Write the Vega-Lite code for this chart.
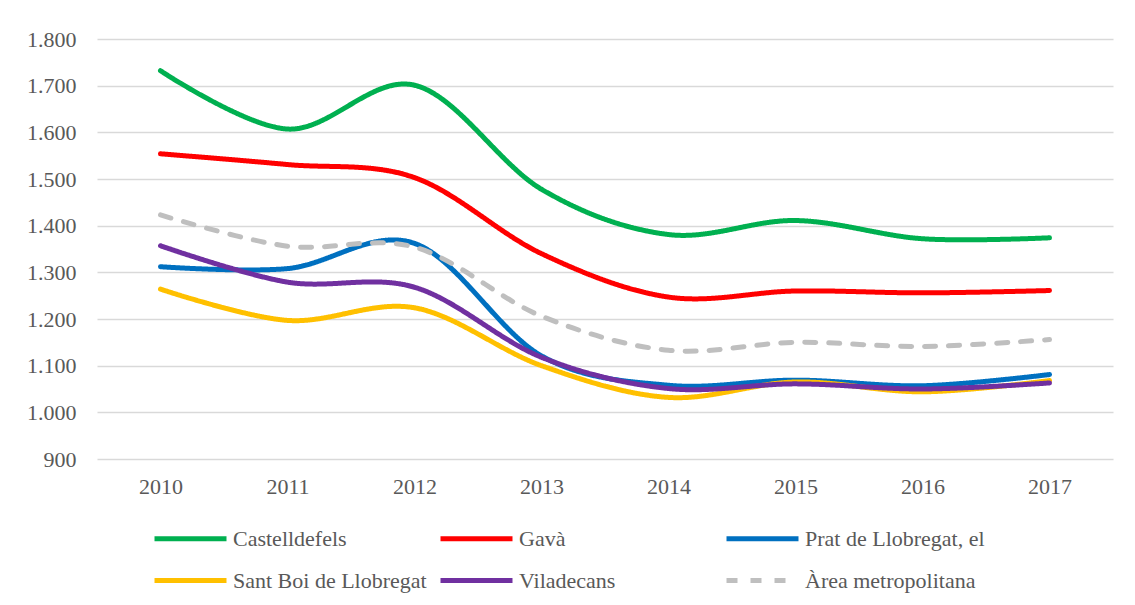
{
  "$schema": "https://vega.github.io/schema/vega-lite/v6.json",
  "width": 1016,
  "height": 420,
  "autosize": {"type": "none"},
  "padding": {"left": 97, "top": 39, "right": 22, "bottom": 146},
  "background": "white",
  "config": {
    "view": {"stroke": null},
    "font": "Liberation Serif",
    "axis": {"labelFont": "Liberation Serif", "labelColor": "#595959", "labelFontSize": 22, "title": null, "domain": false, "ticks": false},
    "legend": {"labelFont": "Liberation Serif", "labelColor": "#595959", "labelFontSize": 22}
  },
  "data": {
    "values": [
      {"year": "2010", "serie": "Castelldefels", "value": 1732},
      {"year": "2011", "serie": "Castelldefels", "value": 1607},
      {"year": "2012", "serie": "Castelldefels", "value": 1701},
      {"year": "2013", "serie": "Castelldefels", "value": 1478},
      {"year": "2014", "serie": "Castelldefels", "value": 1381},
      {"year": "2015", "serie": "Castelldefels", "value": 1411},
      {"year": "2016", "serie": "Castelldefels", "value": 1372},
      {"year": "2017", "serie": "Castelldefels", "value": 1374},
      {"year": "2010", "serie": "Gavà", "value": 1554},
      {"year": "2011", "serie": "Gavà", "value": 1531},
      {"year": "2012", "serie": "Gavà", "value": 1503},
      {"year": "2013", "serie": "Gavà", "value": 1340},
      {"year": "2014", "serie": "Gavà", "value": 1247},
      {"year": "2015", "serie": "Gavà", "value": 1260},
      {"year": "2016", "serie": "Gavà", "value": 1256},
      {"year": "2017", "serie": "Gavà", "value": 1261},
      {"year": "2010", "serie": "Prat de Llobregat, el", "value": 1312},
      {"year": "2011", "serie": "Prat de Llobregat, el", "value": 1308},
      {"year": "2012", "serie": "Prat de Llobregat, el", "value": 1362},
      {"year": "2013", "serie": "Prat de Llobregat, el", "value": 1121},
      {"year": "2014", "serie": "Prat de Llobregat, el", "value": 1058},
      {"year": "2015", "serie": "Prat de Llobregat, el", "value": 1069},
      {"year": "2016", "serie": "Prat de Llobregat, el", "value": 1057},
      {"year": "2017", "serie": "Prat de Llobregat, el", "value": 1081},
      {"year": "2010", "serie": "Sant Boi de Llobregat", "value": 1264},
      {"year": "2011", "serie": "Sant Boi de Llobregat", "value": 1197},
      {"year": "2012", "serie": "Sant Boi de Llobregat", "value": 1224},
      {"year": "2013", "serie": "Sant Boi de Llobregat", "value": 1100},
      {"year": "2014", "serie": "Sant Boi de Llobregat", "value": 1032},
      {"year": "2015", "serie": "Sant Boi de Llobregat", "value": 1065},
      {"year": "2016", "serie": "Sant Boi de Llobregat", "value": 1044},
      {"year": "2017", "serie": "Sant Boi de Llobregat", "value": 1068},
      {"year": "2010", "serie": "Viladecans", "value": 1357},
      {"year": "2011", "serie": "Viladecans", "value": 1279},
      {"year": "2012", "serie": "Viladecans", "value": 1268},
      {"year": "2013", "serie": "Viladecans", "value": 1118},
      {"year": "2014", "serie": "Viladecans", "value": 1051},
      {"year": "2015", "serie": "Viladecans", "value": 1061},
      {"year": "2016", "serie": "Viladecans", "value": 1050},
      {"year": "2017", "serie": "Viladecans", "value": 1063},
      {"year": "2010", "serie": "Àrea metropolitana", "value": 1423},
      {"year": "2011", "serie": "Àrea metropolitana", "value": 1356},
      {"year": "2012", "serie": "Àrea metropolitana", "value": 1354},
      {"year": "2013", "serie": "Àrea metropolitana", "value": 1206},
      {"year": "2014", "serie": "Àrea metropolitana", "value": 1133},
      {"year": "2015", "serie": "Àrea metropolitana", "value": 1150},
      {"year": "2016", "serie": "Àrea metropolitana", "value": 1141},
      {"year": "2017", "serie": "Àrea metropolitana", "value": 1156}
    ]
  },
  "mark": {"type": "line", "interpolate": "cardinal", "strokeWidth": 5, "strokeCap": "round", "strokeJoin": "round"},
  "encoding": {
    "x": {
      "field": "year", "type": "ordinal",
      "scale": {"type": "point", "padding": 0.5},
      "axis": {"labelAngle": 0, "labelPadding": 17, "grid": false}
    },
    "y": {
      "field": "value", "type": "quantitative",
      "scale": {"domain": [900, 1800], "nice": false, "zero": false},
      "axis": {
        "values": [900, 1000, 1100, 1200, 1300, 1400, 1500, 1600, 1700, 1800],
        "labelExpr": "replace(format(datum.value, ','), ',', '.')",
        "labelPadding": 21,
        "grid": true, "gridColor": "#d9d9d9", "gridWidth": 1.5
      }
    },
    "color": {
      "field": "serie", "type": "nominal",
      "scale": {
        "domain": ["Castelldefels", "Gavà", "Prat de Llobregat, el", "Sant Boi de Llobregat", "Viladecans", "Àrea metropolitana"],
        "range": ["#00B050", "#FF0000", "#0070C0", "#FFC000", "#7030A0", "#BFBFBF"]
      },
      "legend": {
        "title": null,
        "orient": "none",
        "legendX": 55,
        "legendY": 485,
        "direction": "horizontal",
        "columns": 3,
        "gridAlign": "all",
        "symbolType": "M-3,0H3",
        "symbolSize": 576,
        "symbolStrokeWidth": 5,
        "symbolOffset": 24,
        "labelOffset": 28,
        "labelLimit": 400,
        "columnPadding": 3,
        "rowPadding": 16
      }
    },
    "strokeDash": {
      "field": "serie", "type": "nominal",
      "scale": {
        "domain": ["Castelldefels", "Gavà", "Prat de Llobregat, el", "Sant Boi de Llobregat", "Viladecans", "Àrea metropolitana"],
        "range": [[1, 0], [1, 0], [1, 0], [1, 0], [1, 0], [11, 13]]
      },
      "legend": null
    }
  }
}
